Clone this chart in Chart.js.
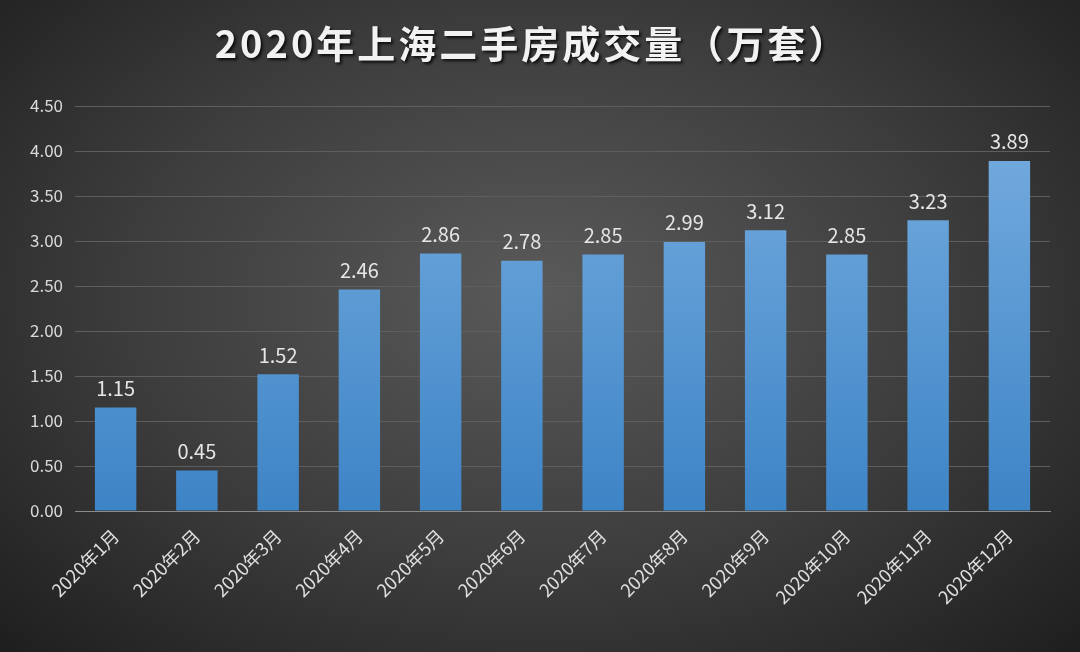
<!DOCTYPE html>
<html><head><meta charset="utf-8">
<script src="https://cdn.jsdelivr.net/npm/chart.js@4"></script>
<style>
html,body{margin:0;padding:0;}
body{width:1080px;height:652px;background:radial-gradient(ellipse at 50% 45%,#5a5a5a 0%,#3c3c3c 55%,#1e1e1e 100%);}
#wrap{width:1080px;height:652px;position:relative;}
</style></head><body>
<div id="wrap"><canvas id="c" width="1080" height="652"></canvas></div>
<script>
const categories=["2020年1月","2020年2月","2020年3月","2020年4月","2020年5月","2020年6月","2020年7月","2020年8月","2020年9月","2020年10月","2020年11月","2020年12月"];
const values=[1.15,0.45,1.52,2.46,2.86,2.78,2.85,2.99,3.12,2.85,3.23,3.89];
const titleText="2020年上海二手房成交量（万套）";
const FONT="'Noto Sans CJK SC','Noto Sans',sans-serif";
const labelPlugin={id:'lbl',afterDatasetsDraw(ch){const c=ch.ctx;const m=ch.getDatasetMeta(0);c.save();c.fillStyle='#e6e6e6';c.font='20px '+FONT;c.textAlign='center';c.textBaseline='bottom';m.data.forEach((b,i)=>{c.fillText(values[i].toFixed(2),b.x,b.y-9);});c.restore();}};
const titlePlugin={id:'ttl',afterDraw(ch){const c=ch.ctx;c.save();c.font='bold 38px '+FONT;c.letterSpacing='3px';c.textAlign='center';c.textBaseline='middle';c.shadowColor='rgba(0,0,0,0.8)';c.shadowOffsetX=2;c.shadowOffsetY=2;c.shadowBlur=3;c.fillStyle='#f2f2f2';c.fillText(titleText,532,44);c.restore();}};
new Chart(document.getElementById('c'),{type:'bar',
data:{labels:categories,datasets:[{data:values,
backgroundColor:(ctx)=>{const a=ctx.chart.chartArea;if(!a)return '#5b9bd5';const g=ctx.chart.ctx.createLinearGradient(0,a.top,0,a.bottom);g.addColorStop(0,'#78aee0');g.addColorStop(1,'#3d84c6');return g;},
barPercentage:0.51,categoryPercentage:1}]},
options:{responsive:false,animation:false,devicePixelRatio:1,
layout:{padding:{top:106,right:30,left:0,bottom:0}},
plugins:{legend:{display:false},tooltip:{enabled:false},title:{display:false}},
scales:{
y:{min:0,max:4.5,afterFit:s=>{s.width=75;},ticks:{stepSize:0.5,color:'#d9d9d9',font:{size:17,family:FONT},callback:v=>v.toFixed(2),padding:12},grid:{color:'#5e5e5e',drawTicks:false},border:{display:false}},
x:{afterFit:s=>{s.height=141;},ticks:{color:'#e0e0e0',font:{size:18,family:FONT},minRotation:45,maxRotation:45,padding:6},grid:{display:false},border:{color:'#8a8a8a'}}
}},
plugins:[labelPlugin,titlePlugin]});
</script></body></html>
